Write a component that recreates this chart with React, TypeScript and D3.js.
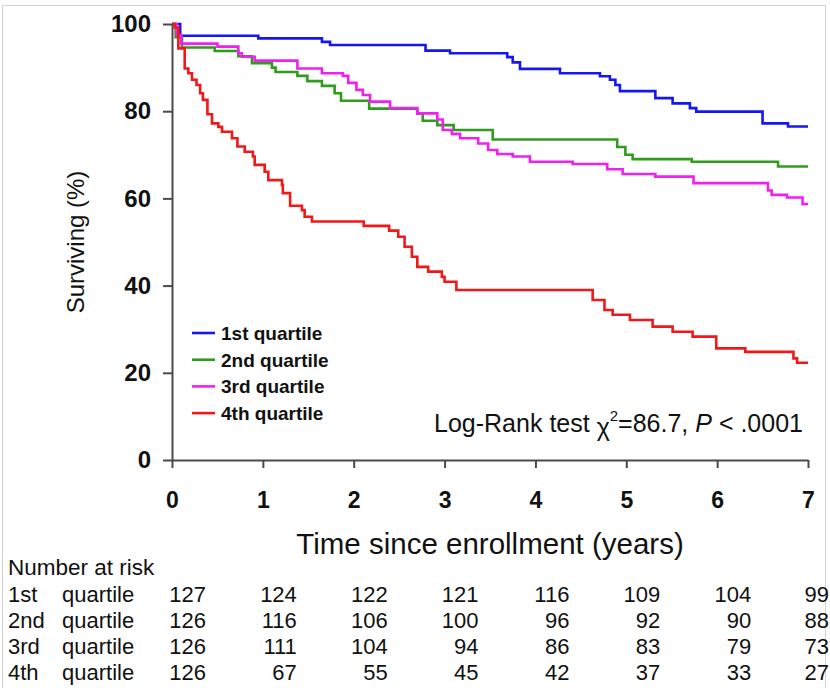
import React, { useEffect, useRef } from 'react';
import * as d3 from 'd3';

// ---- data ----
const years = [0, 1, 2, 3, 4, 5, 6, 7];
const yTicks = [0, 20, 40, 60, 80, 100];
const quartileLabels = ['1st quartile', '2nd quartile', '3rd quartile', '4th quartile'];
const rowOrdinals = ['1st', '2nd', '3rd', '4th'];
const seriesColors = ['#1616f2', '#2f9c1c', '#f020f0', '#f01818'];

// Kaplan-Meier steps: [time (years), surviving (%)]
const q1: [number, number][] = [
  [0, 100], [0.09, 97.3], [0.95, 96.7], [1.65, 95.9], [1.74, 95.2], [2.79, 93.9], [3.06, 93.3],
  [3.69, 92.4], [3.75, 91.2], [3.83, 89.7], [4.27, 88.7], [4.71, 88.0], [4.82, 87.2], [4.88, 86.0],
  [4.93, 84.6], [5.32, 83.0], [5.51, 81.8], [5.70, 80.7], [5.77, 79.9], [6.50, 77.2], [6.78, 76.5],
  [7.0, 76.5],
];
const q2: [number, number][] = [
  [0, 100], [0.04, 97.0], [0.11, 94.6], [0.47, 93.8], [0.73, 92.6], [0.88, 91.0], [1.10, 90.0],
  [1.14, 89.0], [1.38, 88.1], [1.49, 86.9], [1.65, 85.8], [1.79, 84.1], [1.86, 82.4], [2.17, 80.6],
  [2.70, 79.4], [2.76, 77.8], [2.92, 76.8], [3.10, 75.7], [3.53, 73.5], [4.90, 71.8], [4.99, 70.0],
  [5.07, 69.0], [5.72, 68.4], [6.67, 67.3], [7.0, 67.3],
];
const q3: [number, number][] = [
  [0, 100], [0.05, 97.5], [0.10, 95.5], [0.50, 94.8], [0.73, 93.3], [0.77, 92.5], [0.91, 91.6],
  [1.38, 89.8], [1.65, 88.7], [1.88, 88.1], [1.94, 86.5], [2.03, 84.9], [2.10, 83.7], [2.18, 82.2],
  [2.40, 80.7], [2.70, 79.5], [2.92, 78.1], [2.98, 75.7], [3.08, 74.8], [3.17, 73.8], [3.37, 72.6],
  [3.48, 71.1], [3.58, 70.2], [3.75, 69.6], [3.94, 68.4], [4.41, 67.9], [4.79, 66.7], [4.96, 65.6],
  [5.32, 65.0], [5.74, 63.5], [6.56, 61.8], [6.60, 60.8], [6.77, 60.2], [6.94, 58.7], [7.0, 58.7],
];
const q4: [number, number][] = [
  [0, 100], [0.03, 99.2], [0.07, 94.4], [0.14, 89.8], [0.18, 88.7], [0.22, 87.2], [0.27, 86.0],
  [0.31, 84.1], [0.34, 82.6], [0.39, 79.3], [0.44, 77.2], [0.51, 76.4], [0.55, 75.3], [0.66, 73.8],
  [0.72, 71.9], [0.80, 70.7], [0.89, 69.6], [0.91, 67.7], [1.02, 66.1], [1.06, 64.2], [1.21, 63.1],
  [1.22, 61.2], [1.30, 58.3], [1.43, 57.3], [1.46, 55.8], [1.54, 54.7], [2.11, 53.7], [2.39, 52.6],
  [2.49, 51.2], [2.56, 48.9], [2.64, 46.6], [2.70, 44.3], [2.82, 43.2], [2.97, 42.0], [3.00, 40.9],
  [3.13, 39.0], [4.63, 36.7], [4.76, 34.4], [4.85, 33.3], [5.04, 32.1], [5.29, 30.6], [5.51, 29.4],
  [5.73, 28.3], [5.99, 25.6], [6.31, 24.8], [6.84, 23.3], [6.88, 22.3], [7.0, 22.3],
];
const allSeries = [q1, q2, q3, q4];

const riskQ1 = [127, 124, 122, 121, 116, 109, 104, 99];
const riskQ2 = [126, 116, 106, 100, 96, 92, 90, 88];
const riskQ3 = [126, 111, 104, 94, 86, 83, 79, 73];
const riskQ4 = [126, 67, 55, 45, 42, 37, 33, 27];
const riskRows = [riskQ1, riskQ2, riskQ3, riskQ4];

// ---- layout ----
const W = 830;
const H = 688;
const FONT = '"Liberation Sans", Arial, Helvetica, sans-serif';
const AXIS = '#4a4a4a';

const x = d3.scaleLinear().domain([0, 7]).range([172, 808]);
const y = d3.scaleLinear().domain([0, 100]).range([460, 24]);

const line = d3
  .line<[number, number]>()
  .x((d) => x(d[0]))
  .y((d) => y(d[1]))
  .curve(d3.curveStepAfter);

export default function App() {
  const xAxisRef = useRef<SVGGElement>(null);
  const yAxisRef = useRef<SVGGElement>(null);

  useEffect(() => {
    const gx = d3.select(xAxisRef.current!);
    gx.call(
      d3.axisBottom(x).tickValues(years).tickSize(8).tickSizeOuter(0).tickPadding(24).tickFormat(d3.format('d'))
    );
    gx.selectAll('path, line').attr('stroke', AXIS).attr('stroke-width', 2);
    gx.selectAll('text')
      .attr('fill', '#111')
      .style('font-family', FONT)
      .style('font-size', '23px')
      .style('font-weight', 'bold');

    const gy = d3.select(yAxisRef.current!);
    gy.call(d3.axisLeft(y).tickValues(yTicks).tickSize(9).tickSizeOuter(0).tickPadding(12));
    gy.selectAll('path, line').attr('stroke', AXIS).attr('stroke-width', 2);
    gy.selectAll('text')
      .attr('fill', '#111')
      .style('font-family', FONT)
      .style('font-size', '24px')
      .style('font-weight', 'bold');
  }, []);

  const rowY = [602, 628, 654, 680];

  return (
    <svg
      width={W}
      height={H}
      style={{ position: 'absolute', left: 0, top: 0, background: '#fff', display: 'block' }}
      fontFamily={FONT}
    >
      <rect x={0} y={0} width={W} height={H} fill="#fff" />
      <rect x={2.5} y={5.5} width={823} height={700} fill="none" stroke="#d4d4d4" strokeWidth={1} />

      {allSeries.map((s, i) => (
        <path
          key={i}
          d={line(s) || ''}
          fill="none"
          stroke={seriesColors[i]}
          strokeWidth={2.6}
          strokeLinejoin="miter"
        />
      ))}

      <g ref={xAxisRef} transform={`translate(0,${y(0)})`} />
      <g ref={yAxisRef} transform={`translate(${x(0)},0)`} />

      {/* legend */}
      {quartileLabels.map((lab, i) => (
        <g key={lab} transform={`translate(0,${333 + i * 26.7})`}>
          <line x1={192} x2={215} y1={0} y2={0} stroke={seriesColors[i]} strokeWidth={2.6} />
          <text x={221} y={0} dy="0.36em" fontSize={19} fontWeight="bold" fill="#111">
            {lab}
          </text>
        </g>
      ))}

      {/* log-rank annotation */}
      <text x={803} y={432} textAnchor="end" fontSize={25} fill="#111">
        Log-Rank test <tspan dy={4}>χ</tspan>
        <tspan dy={-15} fontSize={15}>2</tspan>
        <tspan dy={11}>=86.7, </tspan>
        <tspan fontStyle="italic">P</tspan>
        <tspan> &lt; .0001</tspan>
      </text>

      {/* x title */}
      <text x={490} y={554} textAnchor="middle" fontSize={29.5} fill="#111">
        Time since enrollment (years)
      </text>

      {/* y title */}
      <text transform={`translate(84,${y(50)}) rotate(-90)`} textAnchor="middle" fontSize={24} fill="#111">
        Surviving (%)
      </text>

      {/* number at risk table */}
      <text x={8} y={575} fontSize={22.5} fill="#111">
        Number at risk
      </text>
      {riskRows.map((row, r) => (
        <g key={r}>
          <text x={8} y={rowY[r]} fontSize={22} fill="#111">
            {rowOrdinals[r]}
          </text>
          <text x={62} y={rowY[r]} fontSize={22} fill="#111">
            quartile
          </text>
          {row.map((v, c) => (
            <text
              key={c}
              x={Math.min(x(years[c]) + 34, 829)}
              y={rowY[r]}
              fontSize={22}
              textAnchor="end"
              fill="#111"
            >
              {v}
            </text>
          ))}
        </g>
      ))}
    </svg>
  );
}
